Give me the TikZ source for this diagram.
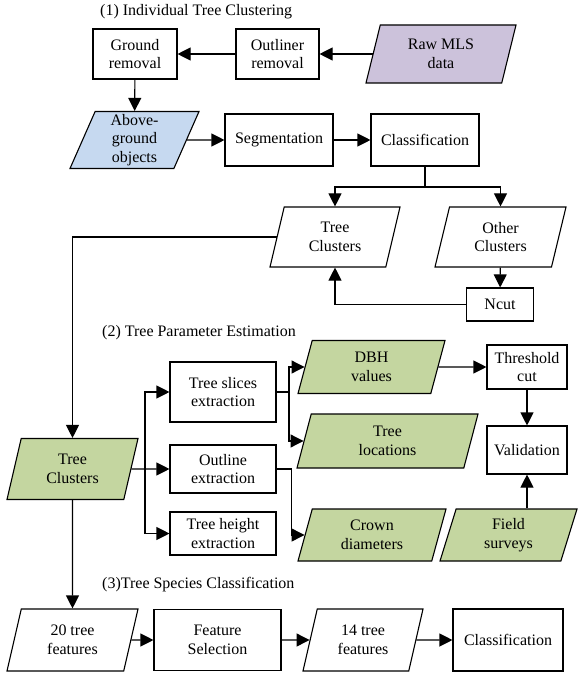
\documentclass[tikz,border=0pt]{standalone}
\usepackage{fontspec}
\setmainfont{Liberation Serif}
\usepackage{xcolor}
\usepackage{tikz}
\usetikzlibrary{positioning,calc,arrows.meta,shapes.geometric}
\definecolor{RawLav}{RGB}{204,194,219}
\definecolor{AboveBlue}{RGB}{198,217,240}
\definecolor{TreeGreen}{RGB}{196,214,160}
\newcommand{\diagfont}{\fontsize{16}{18.5}\selectfont}

\begin{document}
\begin{tikzpicture}[x=1pt,y=-1pt]
	\tikzset{
		proc/.style={rectangle, draw=black, line width=1.1pt, fill=white,
			align=center, inner sep=0pt, font=\diagfont},
		data/.style={trapezium, trapezium left angle=64, trapezium right angle=116,
			trapezium stretches body, draw=black, line width=1.1pt, fill=white,
			align=center, inner sep=0pt, font=\diagfont},
		e/.style={draw=black, line width=1.1pt, -{Triangle[length=13pt,width=13pt]}},
		ln/.style={draw=black, line width=1.1pt},
		ttl/.style={anchor=west, inner sep=0pt, font=\diagfont}
	}
	\useasboundingbox (0,0) rectangle (579,674);
	
	% (1) clustering
	\node[ttl] (t1) at (100,12) {(1) Individual Tree Clustering};
	\node[proc, minimum width=84pt, minimum height=50pt] (gr) at (135,54) {Ground\\removal};
	\node[proc, minimum width=83pt, minimum height=50pt] (outl) at (277.5,54) {Outliner\\removal};
	\node[data, fill=RawLav, minimum width=150pt, minimum height=58pt] (raw) at (441,54) {Raw MLS\\data};
	\node[data, fill=AboveBlue, minimum width=129pt, minimum height=57pt] (above) at (134.5,140) {Above-\\ground\\objects};
	\node[proc, minimum width=108pt, minimum height=52pt] (seg) at (279,140) {Segmentation};
	\node[proc, minimum width=108pt, minimum height=52pt] (cls) at (425,140) {Classification};
	\node[data, minimum width=130pt, minimum height=60pt] (tcl) at (335,237) {Tree\\Clusters};
	\node[data, minimum width=131pt, minimum height=60pt] (ocl) at (500.5,237) {Other\\Clusters};
	\node[proc, minimum width=67pt, minimum height=33pt] (ncut) at (500,304.5) {Ncut};
	\coordinate (br1) at (425,187);
	
	\draw[e] (raw) -- (raw -| outl.east);
	\draw[e] (outl) -- (gr);
	\draw[e] (gr) -- (above);
	\draw[e] (above) -- (above -| seg.west);
	\draw[e] (seg) -- (cls);
	\draw[ln] (cls) -- (br1);
	\draw[e] (br1) -| (tcl);
	\draw[e] (br1) -| (ocl);
	\draw[e] (ocl) -- (ncut);
	\draw[e] (ncut) -| (tcl);
	
	% (2) parameters
	\node[ttl] (t2) at (102,333) {(2) Tree Parameter Estimation};
	\node[data, fill=TreeGreen, minimum width=131pt, minimum height=61pt] (tcg) at (72.5,469) {Tree\\Clusters};
	\node[proc, minimum width=106pt, minimum height=60pt] (slices) at (223,392) {Tree slices\\extraction};
	\node[proc, minimum width=106pt, minimum height=48pt] (outline) at (223,469) {Outline\\extraction};
	\node[proc, minimum width=106pt, minimum height=43pt] (height) at (223,533.5) {Tree height\\extraction};
	\node[data, fill=TreeGreen, minimum width=147pt, minimum height=53pt] (dbh) at (371.5,367) {DBH\\values};
	\node[data, fill=TreeGreen, minimum width=181pt, minimum height=54pt] (loc) at (387.5,441) {Tree\\locations};
	\node[data, fill=TreeGreen, minimum width=148pt, minimum height=52pt] (crown) at (372,535) {Crown\\diameters};
	\node[data, fill=TreeGreen, minimum width=137pt, minimum height=52pt] (field) at (508.5,535) {Field\\surveys};
	\node[proc, minimum width=80pt, minimum height=44pt] (thr) at (527,367) {Threshold\\cut};
	\node[proc, minimum width=80pt, minimum height=48pt] (val) at (527,450) {Validation};
	\coordinate (br2) at (145,469);
	\coordinate (br3) at (289,392);
	
	\draw[e] (tcl) -| (tcg);
	\draw[e] (tcg) -- (tcg -| outline.west);
	\draw[e] (br2) |- (slices);
	\draw[e] (br2) |- (height);
	\draw[ln] (slices) -- (br3);
	\draw[e] (br3) |- (dbh);
	\draw[e] (br3) |- (loc);
	\draw[e] (outline.east) -- ++(15,0) |- (crown);
	\draw[e] (dbh) -- (dbh -| thr.west);
	\draw[e] (thr) -- (val);
	\draw[e] (val |- field.north) -- (val);
	
	% (3) species
	\node[ttl] (t3) at (102,585) {(3)Tree Species Classification};
	\node[data, minimum width=131pt, minimum height=62pt] (f20) at (72.5,640) {20 tree\\features};
	\node[proc, minimum width=127pt, minimum height=61pt] (fsel) at (217.5,640) {Feature\\Selection};
	\node[data, minimum width=120pt, minimum height=62pt] (f14) at (363,640) {14 tree\\features};
	\node[proc, minimum width=110pt, minimum height=62pt] (cls2) at (508,640) {Classification};
	
	\draw[e] (tcg) -- (f20);
	\draw[e] (f20) -- (f20 -| fsel.west);
	\draw[e] (fsel) -- (f14);
	\draw[e] (f14) -- (f14 -| cls2.west);
\end{tikzpicture}
\end{document}
